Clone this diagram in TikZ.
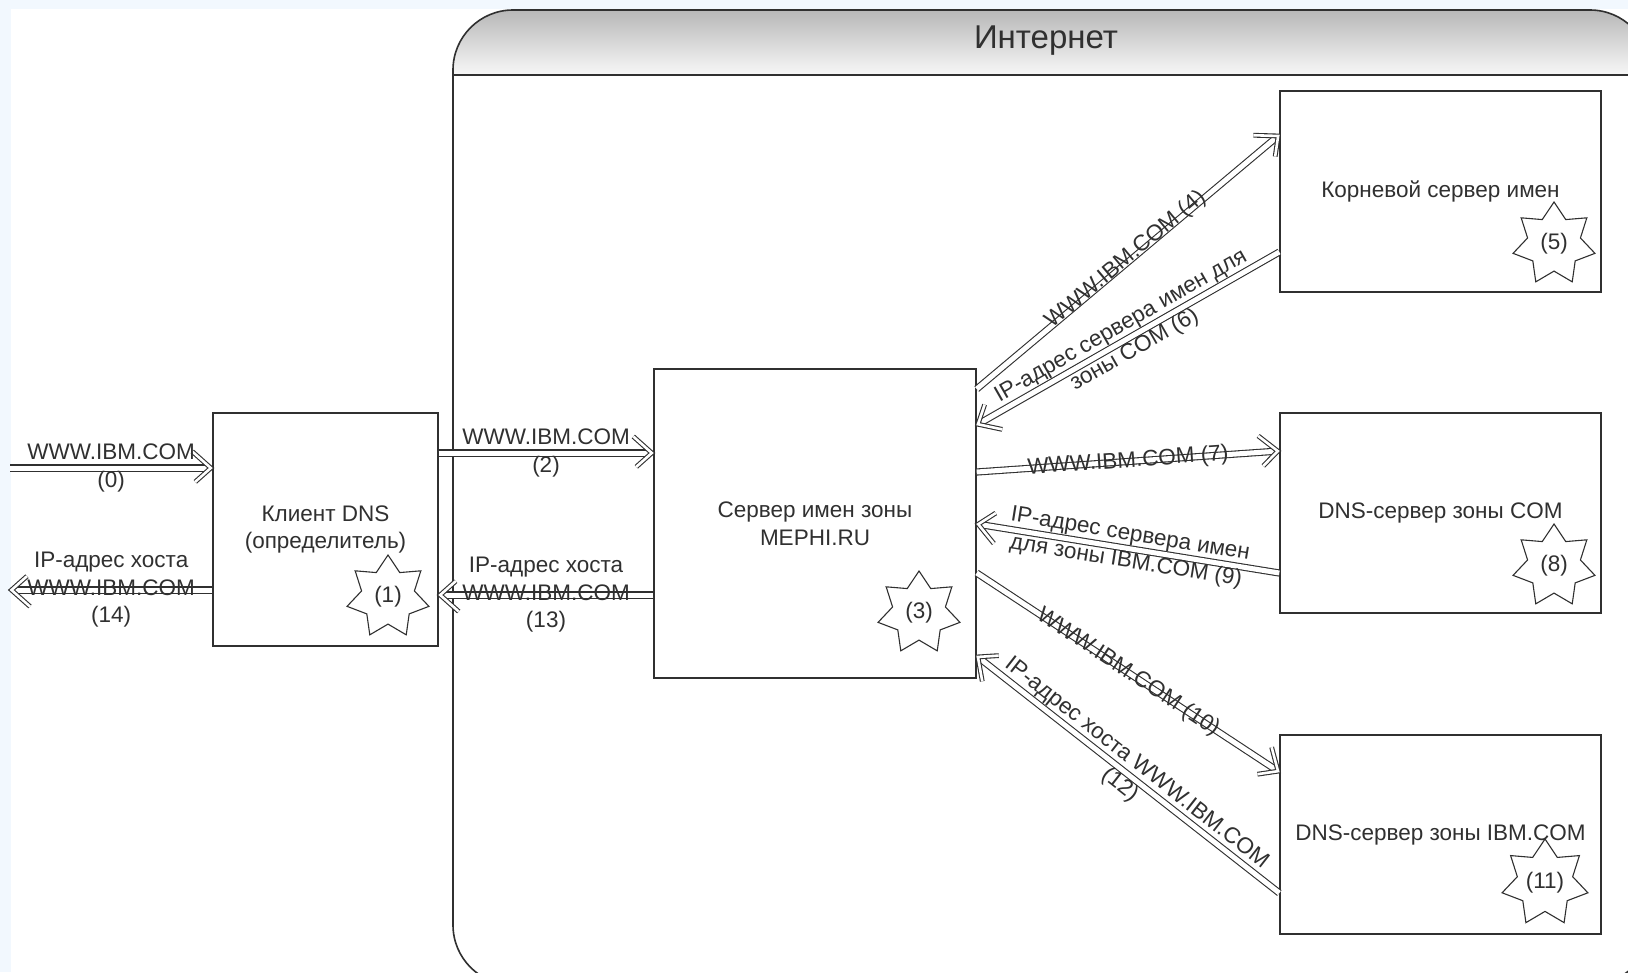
\documentclass[tikz,border=0pt]{standalone}
\usepackage{fontspec}
\setmainfont{Liberation Sans}
\usetikzlibrary{shapes.geometric,decorations.markings}
\definecolor{pageblue}{HTML}{F2F8FE}
\definecolor{ink}{HTML}{303030}
\newcommand{\msgfont}{\fontsize{22.5}{27.5}\selectfont}
\tikzset{
  box/.style={draw=ink, line width=1.4pt, align=center, font=\msgfont, text=ink},
  msg/.style={draw=ink, line width=1.1pt, double, double distance=5pt, shorten >=4pt,
    postaction={decorate, decoration={markings, mark=at position 1 with {
      \draw[draw=ink, line width=1.1pt, double=white, double distance=2.6pt, line join=miter]
        (-20pt,16.5pt) -- (-1.5pt,0pt) -- (-20pt,-16.5pt);}}}},
  lab/.style={align=center, inner sep=0pt, font=\msgfont, text=ink},
  mark7/.style={star, star points=7, star point ratio=1.55, draw=ink, line width=1.1pt,
    minimum size=84pt, inner sep=0pt, font=\msgfont, text=ink}
}
\begin{document}
\begin{tikzpicture}[x=1pt,y=-1pt]
  \useasboundingbox (0,0) rectangle (1628,972);
  \clip (0,0) rectangle (1628,972);
  \fill[pageblue] (0,0) rectangle (1628,972);
  \fill[white] (11,9) rectangle (1628,972);

  % Internet frame
  \begin{scope}
    \clip[rounded corners=60pt] (453,10) rectangle (1650,985);
    \shade[top color=black!28, bottom color=black!3] (453,10) rectangle (1650,75);
  \end{scope}
  \draw[ink, line width=1.6pt, rounded corners=60pt] (453,10) rectangle (1650,985);
  \draw[ink, line width=1.6pt] (453,75) -- (1650,75);
  \node[text=ink, font=\fontsize{33}{40}\selectfont] (inet) at (1046,41) {Интернет};

  \node[box, minimum width=225pt, minimum height=233pt] (client) at (325.5,529.5) {Клиент DNS\\(определитель)};
  \node[box, minimum width=322pt, minimum height=309pt] (mephi) at (815,523.5) {Сервер имен зоны\\MEPHI.RU};
  \node[box, minimum width=321pt, minimum height=201pt] (root) at (1440.5,191.5) {Корневой сервер имен};
  \node[box, minimum width=321pt, minimum height=200pt] (com) at (1440.5,513) {DNS-сервер зоны COM};
  \node[box, minimum width=321pt, minimum height=199pt] (ibm) at (1440.5,834.5) {DNS-сервер зоны IBM.COM};

  \node[mark7] (s1) at (388,597) {(1)};
  \node[mark7] (s3) at (919,613) {(3)};
  \node[mark7] (s5) at (1554,244) {(5)};
  \node[mark7] (s8) at (1554,566) {(8)};
  \node[mark7, minimum size=88pt] (s11) at (1545,883) {(11)};

  \coordinate (in0) at (10,468);
  \coordinate (out14) at (10,590);

  \draw[msg] (in0) -- (client.west |- in0) node[lab, midway] {WWW.IBM.COM\\(0)};
  \draw[msg] (client.west |- out14) -- (out14) node[lab, midway] {IP-адрес хоста\\WWW.IBM.COM\\(14)};
  \draw[msg] (client.east |- 0,453) -- (mephi.west |- 0,453) node[lab, midway] {WWW.IBM.COM\\(2)};
  \draw[msg] (mephi.west |- 0,595) -- (client.east |- 0,595) node[lab, midway] {IP-адрес хоста\\WWW.IBM.COM\\(13)};

  \draw[msg] (mephi.east |- 0,389) -- (root.west |- 0,135) node[lab, midway, sloped, above=-8pt] {WWW.IBM.COM (4)};
  \draw[msg] (root.west |- 0,252) -- (mephi.east |- 0,425) node[lab, midway, sloped] {IP-адрес сервера имен для\\зоны COM (6)};
  \draw[msg] (mephi.east |- 0,472) -- (com.west |- 0,451) node[lab, midway, sloped] {WWW.IBM.COM (7)};
  \draw[msg] (com.west |- 0,573) -- (mephi.east |- 0,524) node[lab, midway, sloped] {IP-адрес сервера имен\\для зоны IBM.COM (9)};
  \draw[msg] (mephi.east |- 0,573) -- (ibm.west |- 0,772) node[lab, midway, sloped] {WWW.IBM.COM (10)};
  \draw[msg] (ibm.west |- 0,893) -- (mephi.east |- 0,656) node[lab, midway, sloped] {IP-адрес хоста WWW.IBM.COM\\(12)};
\end{tikzpicture}
\end{document}
